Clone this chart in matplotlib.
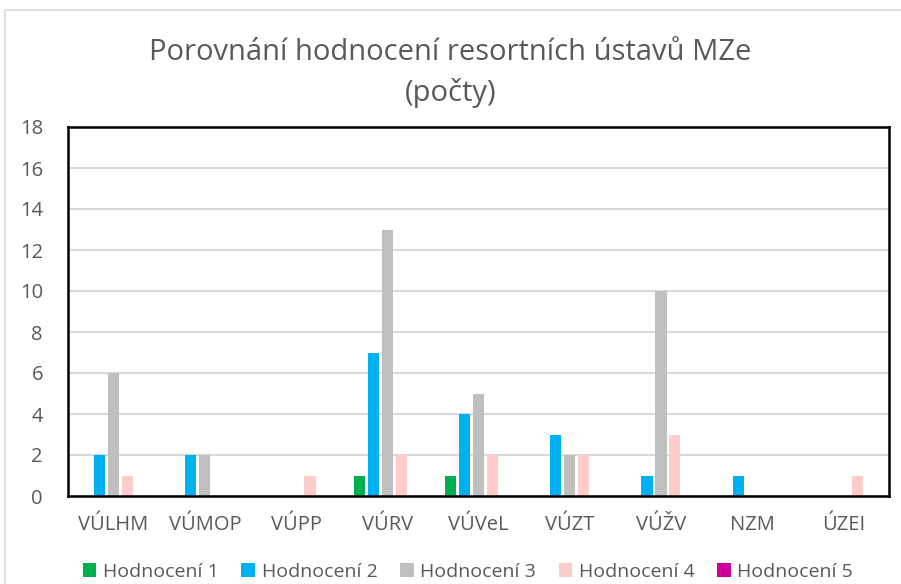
import matplotlib
matplotlib.use("Agg")
import matplotlib.pyplot as plt
import numpy as np
from matplotlib.patches import Rectangle

# categories and counts per rating
ustavy = ["VÚLHM", "VÚMOP", "VÚPP", "VÚRV", "VÚVeL", "VÚZT", "VÚŽV", "NZM", "ÚZEI"]
hodnoceni_1 = [0, 0, 0, 1, 1, 0, 0, 0, 0]
hodnoceni_2 = [2, 2, 0, 7, 4, 3, 1, 1, 0]
hodnoceni_3 = [6, 2, 0, 13, 5, 2, 10, 0, 0]
hodnoceni_4 = [1, 0, 1, 2, 2, 2, 3, 0, 1]
hodnoceni_5 = [0, 0, 0, 0, 0, 0, 0, 0, 0]

series = [hodnoceni_1, hodnoceni_2, hodnoceni_3, hodnoceni_4, hodnoceni_5]
labels = ["Hodnocení 1", "Hodnocení 2", "Hodnocení 3", "Hodnocení 4", "Hodnocení 5"]
colors = ["#00B050", "#00B0F0", "#BFBFBF", "#FFCCCC", "#CC0099"]

plt.rcParams['font.family'] = ['Open Sans', 'DejaVu Sans']
textcol = "#595959"

fig = plt.figure(figsize=(9.01, 5.84), dpi=100)
ax = fig.add_axes([68/901, 1 - 496/584, (889-68)/901, (496-127)/584])

# outer chart border
fig.patches.append(Rectangle((5/901, -0.05), 1.0, 1 - 10/584 + 0.05, transform=fig.transFigure,
                             fill=False, edgecolor="#D9D9D9", linewidth=1.2))

x = np.arange(len(ustavy))
slot = 0.153
for i, (vals, lab, c) in enumerate(zip(series, labels, colors)):
    ax.bar(x + (i - 2) * slot, vals, width=0.122, color=c, linewidth=0,
           label=lab, zorder=3)

ax.set_xlim(-0.5, len(ustavy) - 0.5)
ax.set_ylim(0, 18)
ax.set_yticks(range(0, 19, 2))
ax.set_xticks(x)
ax.set_xticklabels(ustavy)
ax.grid(axis="y", color="#D9D9D9", linewidth=1.5, zorder=0)
ax.tick_params(length=0, labelsize=14.5, colors=textcol)
ax.tick_params(axis="y", pad=18)
ax.tick_params(axis="x", pad=14)
for s in ax.spines.values():
    s.set_color("black")
    s.set_linewidth(1.8)
    s.set_zorder(4)

fig.text(0.5, 1 - 53/584, "Porovnání hodnocení resortních ústavů MZe", ha="center", va="center",
         fontsize=21, color=textcol)
fig.text(0.5, 1 - 93/584, "(počty)", ha="center", va="center", fontsize=21, color=textcol)

fig.legend(loc="center", bbox_to_anchor=(468/901, 1 - 572/584), ncol=5, frameon=False,
           fontsize=14, labelcolor=textcol, handlelength=0.7, handleheight=0.7,
           handletextpad=0.35, columnspacing=1.15)

plt.savefig("out.png", dpi=100)
